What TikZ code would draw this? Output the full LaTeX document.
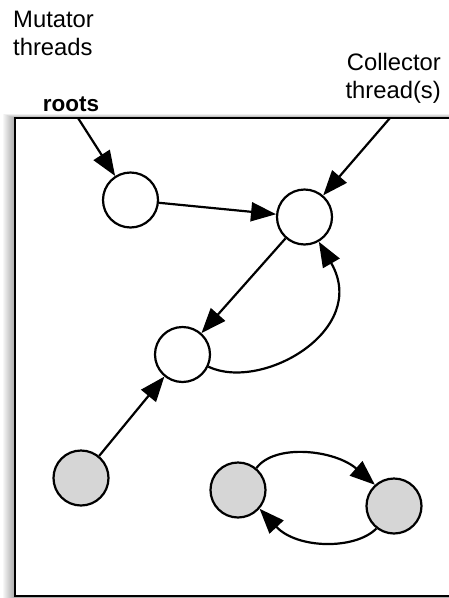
\documentclass[tikz,border=0pt]{standalone}
\usepackage{fontspec}
\setmainfont{Liberation Sans}
\usetikzlibrary{arrows.meta}

\definecolor{unreach}{HTML}{D6D6D6}

\tikzset{
  obj/.style={circle, draw=black, line width=2.2pt, minimum size=55pt, inner sep=0pt, fill=white},
  garbage/.style={obj, fill=unreach},
  ref/.style={line width=2.2pt, -{Triangle[length=25pt,width=19pt]}},
  lbl/.style={inner sep=0pt, font=\fontsize{23.8}{28}\selectfont},
}

\begin{document}
\begin{tikzpicture}[x=1pt, y=-1pt]
  \useasboundingbox (0,0) rectangle (449,598);

  % soft shadow along the heap border
  \foreach \i in {1,...,12}
    \fill[black, opacity=0.03] (15-\i, 118-\i/3) rectangle (470,610);

  % heap
  \fill[white] (15,118) rectangle (470,596);
  \draw[line width=2.5pt] (470,118) -- (15,118) -- (15,596) -- (470,596);

  % labels (base anchor sits on the last line)
  \node[lbl, align=left, anchor=base west] (mut) at (13,55) {Mutator\\threads};
  \node[lbl, font=\fontsize{23.8}{27.5}\selectfont, align=right, anchor=base east] (col) at (441,98) {Collector\\thread(s)};
  \node[lbl, font=\fontsize{22.5}{28}\selectfont\bfseries, anchor=base] (roots) at (71,111.5) {roots};

  % objects
  \node[obj] (a) at (130.5,200) {};
  \node[obj] (b) at (304.5,217) {};
  \node[obj] (c) at (182.5,354.5) {};
  \node[garbage] (d) at (81,478) {};
  \node[garbage] (e) at (238,490) {};
  \node[garbage] (f) at (394,506) {};

  % entry points of the threads
  \coordinate (rootin) at (78,118);
  \coordinate (colin) at (390,118);

  % references
  \draw[ref] (rootin) -- (a);
  \draw[ref] (colin) -- (b);
  \draw[ref] (a) -- (b);
  \draw[ref] (b) -- (c);
  \draw[ref] (c) .. controls (262,392) and (370,330) .. (b);
  \draw[ref] (d) -- (c);
  \draw[ref] (e.50) .. controls (275,443) and (335,450) .. (f.132);
  \draw[ref] (f.-128) .. controls (355,550) and (297,549) .. (e.-41);
\end{tikzpicture}
\end{document}
